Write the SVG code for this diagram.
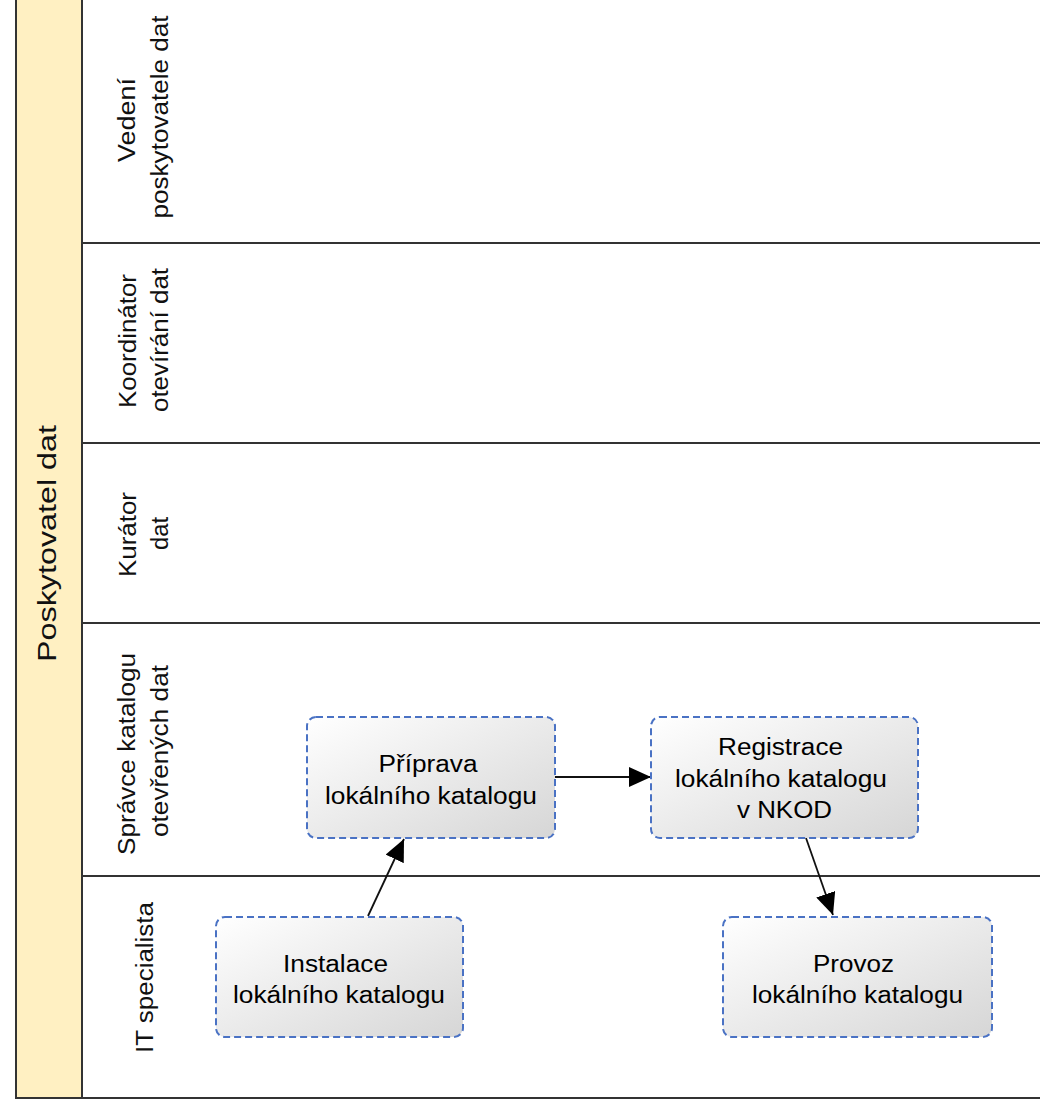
<svg xmlns="http://www.w3.org/2000/svg" width="1040" height="1110" viewBox="0 0 1040 1110">
  <style>
    .pool { fill: #ffffff; stroke: #333333; stroke-width: 2; }
    .band { fill: #fff0c2; stroke: #333333; stroke-width: 2; }
    .lane { stroke: #333333; stroke-width: 2; fill: none; }
    .lbl { font-family: "Liberation Sans", Arial, sans-serif; font-size: 23px; fill: #111111; text-anchor: middle; }
    .pool-lbl { font-family: "Liberation Sans", Arial, sans-serif; font-size: 25px; fill: #111111; text-anchor: middle; }
    .task { fill: url(#taskGrad); stroke: #4a72c4; stroke-width: 2; stroke-dasharray: 7 4; }
    .ttext { font-family: "Liberation Sans", Arial, sans-serif; font-size: 23px; fill: #000000; text-anchor: middle; }
    .conn { stroke: #111111; stroke-width: 1.8; fill: none; marker-end: url(#arrow); }
  </style>
  <defs>
    <linearGradient id="taskGrad" x1="0" y1="0" x2="1" y2="1">
      <stop offset="0" stop-color="#ffffff"/>
      <stop offset="1" stop-color="#d6d6d6"/>
    </linearGradient>
    <marker id="arrow" viewBox="0 0 22 20" refX="22" refY="10" markerWidth="22" markerHeight="20" markerUnits="userSpaceOnUse" orient="auto">
      <path d="M0,0 L22,10 L0,20 Z" fill="#000000"/>
    </marker>
  </defs>

  <g id="pool">
    <rect class="pool" x="16" y="-10" width="1040" height="1108"/>
    <rect class="band" x="16" y="-10" width="66" height="1108"/>
    <text class="pool-lbl" transform="translate(56,543.5) rotate(-90)" textLength="237" lengthAdjust="spacingAndGlyphs">Poskytovatel dat</text>
  </g>

  <g id="lanes">
    <line class="lane" x1="82" y1="243" x2="1045" y2="243"/>
    <line class="lane" x1="82" y1="443" x2="1045" y2="443"/>
    <line class="lane" x1="82" y1="623" x2="1045" y2="623"/>
    <line class="lane" x1="82" y1="876" x2="1045" y2="876"/>
  </g>

  <g id="lane-vedeni">
    <text class="lbl" transform="translate(135,120) rotate(-90)" textLength="84" lengthAdjust="spacingAndGlyphs">Vedení</text>
    <text class="lbl" transform="translate(168,117) rotate(-90)" textLength="203" lengthAdjust="spacingAndGlyphs">poskytovatele dat</text>
  </g>
  <g id="lane-koordinator">
    <text class="lbl" transform="translate(136,341) rotate(-90)" textLength="134" lengthAdjust="spacingAndGlyphs">Koordinátor</text>
    <text class="lbl" transform="translate(168,340) rotate(-90)" textLength="144" lengthAdjust="spacingAndGlyphs">otevírání dat</text>
  </g>
  <g id="lane-kurator">
    <text class="lbl" transform="translate(136,534.5) rotate(-90)" textLength="85" lengthAdjust="spacingAndGlyphs">Kurátor</text>
    <text class="lbl" transform="translate(168,533.5) rotate(-90)" textLength="33" lengthAdjust="spacingAndGlyphs">dat</text>
  </g>
  <g id="lane-spravce">
    <text class="lbl" transform="translate(135,754) rotate(-90)" textLength="202" lengthAdjust="spacingAndGlyphs">Správce katalogu</text>
    <text class="lbl" transform="translate(168,751) rotate(-90)" textLength="172" lengthAdjust="spacingAndGlyphs">otevřených dat</text>
  </g>
  <g id="lane-it">
    <text class="lbl" transform="translate(153,977.5) rotate(-90)" textLength="151" lengthAdjust="spacingAndGlyphs">IT specialista</text>
  </g>

  <g id="connectors">
    <line class="conn" x1="368" y1="916" x2="404" y2="839"/>
    <line class="conn" x1="555" y1="777" x2="651" y2="777"/>
    <line class="conn" x1="806" y1="838" x2="833" y2="915"/>
  </g>

  <g id="task-priprava">
    <rect class="task" x="307" y="717" width="248" height="121" rx="9"/>
    <text class="ttext" x="428" y="772" textLength="99" lengthAdjust="spacingAndGlyphs">Příprava</text>
    <text class="ttext" x="431" y="804" textLength="212" lengthAdjust="spacingAndGlyphs">lokálního katalogu</text>
  </g>

  <g id="task-registrace">
    <rect class="task" x="651" y="717" width="267" height="121" rx="9"/>
    <text class="ttext" x="780.5" y="755" textLength="125" lengthAdjust="spacingAndGlyphs">Registrace</text>
    <text class="ttext" x="781" y="787" textLength="212" lengthAdjust="spacingAndGlyphs">lokálního katalogu</text>
    <text class="ttext" x="784.5" y="818" textLength="95" lengthAdjust="spacingAndGlyphs">v NKOD</text>
  </g>

  <g id="task-instalace">
    <rect class="task" x="216" y="917" width="247" height="120" rx="9"/>
    <text class="ttext" x="335.5" y="972" textLength="105" lengthAdjust="spacingAndGlyphs">Instalace</text>
    <text class="ttext" x="339" y="1003" textLength="212" lengthAdjust="spacingAndGlyphs">lokálního katalogu</text>
  </g>

  <g id="task-provoz">
    <rect class="task" x="723" y="917" width="269" height="120" rx="9"/>
    <text class="ttext" x="853.5" y="972" textLength="81" lengthAdjust="spacingAndGlyphs">Provoz</text>
    <text class="ttext" x="857.5" y="1003" textLength="211" lengthAdjust="spacingAndGlyphs">lokálního katalogu</text>
  </g>
</svg>
